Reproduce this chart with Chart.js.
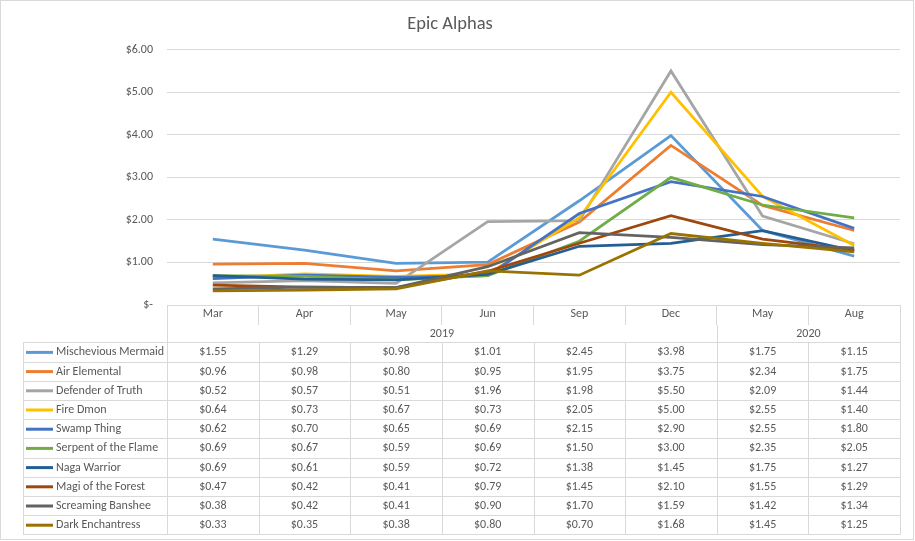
<!DOCTYPE html>
<html><head><meta charset="utf-8">
<script src="https://cdn.jsdelivr.net/npm/chart.js@4/dist/chart.umd.min.js"></script>
<style>html,body{margin:0;padding:0;background:#fff;overflow:hidden}canvas{display:block}</style>
</head><body>
<canvas id="c" width="915" height="541"></canvas>
<script>
const chartTitle = 'Epic Alphas';
const months = ['Mar','Apr','May','Jun','Sep','Dec','May','Aug'];
const years = ['2019','2020'];
const yearSpans = [[0,5],[6,7]];
const yTickValues = [0,1,2,3,4,5,6];
const seriesNames = ['Mischevious Mermaid','Air Elemental','Defender of Truth','Fire Dmon','Swamp Thing','Serpent of the Flame','Naga Warrior','Magi of the Forest','Screaming Banshee','Dark Enchantress'];
const mischeviousMermaid = [1.55,1.29,0.98,1.01,2.45,3.98,1.75,1.15];
const airElemental       = [0.96,0.98,0.80,0.95,1.95,3.75,2.34,1.75];
const defenderOfTruth    = [0.52,0.57,0.51,1.96,1.98,5.50,2.09,1.44];
const fireDmon           = [0.64,0.73,0.67,0.73,2.05,5.00,2.55,1.40];
const swampThing         = [0.62,0.70,0.65,0.69,2.15,2.90,2.55,1.80];
const serpentOfTheFlame  = [0.69,0.67,0.59,0.69,1.50,3.00,2.35,2.05];
const nagaWarrior        = [0.69,0.61,0.59,0.72,1.38,1.45,1.75,1.27];
const magiOfTheForest    = [0.47,0.42,0.41,0.79,1.45,2.10,1.55,1.29];
const screamingBanshee   = [0.38,0.42,0.41,0.90,1.70,1.59,1.42,1.34];
const darkEnchantress    = [0.33,0.35,0.38,0.80,0.70,1.68,1.45,1.25];
const seriesValues = [mischeviousMermaid,airElemental,defenderOfTruth,fireDmon,swampThing,serpentOfTheFlame,nagaWarrior,magiOfTheForest,screamingBanshee,darkEnchantress];
const seriesColors = ['#5B9BD5','#ED7D31','#A5A5A5','#FFC000','#4472C4','#70AD47','#255E91','#9E480E','#636363','#997300'];

const FONT = 'Calibri, Carlito, Lato, "Open Sans", sans-serif';
const TXT = '#595959';
const GRID = '#d9d9d9';
const fmt = v => v === 0 ? '$-' : '$' + v.toFixed(2);

const tablePlugin = {
  id: 'dataTable',
  afterDraw(chart) {
    const ctx = chart.ctx;
    const xs = chart.scales.x;
    const area = chart.chartArea;
    const n = months.length;
    const colW = (area.right - area.left) / n;
    const edges = [];
    for (let i = 0; i < n; i++) edges.push(xs.getPixelForValue(i) - colW / 2);
    edges.push(xs.getPixelForValue(n - 1) + colW / 2);
    const yearTop = area.bottom + 20;
    const rowTop = area.bottom + 37.3;
    const rowH = 19.2;
    const tableLeft = 23;
    ctx.save();
    ctx.strokeStyle = GRID;
    ctx.lineWidth = 1;
    const yearEdges = [edges[0]];
    yearSpans.forEach(s => yearEdges.push(edges[s[1] + 1]));
    yearEdges.forEach(x => {
      ctx.beginPath(); ctx.moveTo(Math.round(x) + 0.5, yearTop); ctx.lineTo(Math.round(x) + 0.5, rowTop); ctx.stroke();
    });
    const nr = seriesNames.length;
    for (let r = 0; r <= nr; r++) {
      const y = Math.round(rowTop + r * rowH) + 0.5;
      ctx.beginPath(); ctx.moveTo(tableLeft, y); ctx.lineTo(edges[n] + 0.5, y); ctx.stroke();
    }
    const vlines = [tableLeft].concat(edges);
    vlines.forEach(x => {
      const xx = Math.round(x) + 0.5;
      ctx.beginPath(); ctx.moveTo(xx, Math.round(rowTop) + 0.5); ctx.lineTo(xx, Math.round(rowTop + nr * rowH) + 0.5); ctx.stroke();
    });
    ctx.fillStyle = TXT;
    ctx.font = '12px ' + FONT;
    ctx.textAlign = 'center';
    ctx.textBaseline = 'middle';
    yearSpans.forEach((s, k) => {
      const cx = (edges[s[0]] + edges[s[1] + 1]) / 2;
      ctx.fillText(years[k], cx, yearTop + 8.5);
    });
    for (let r = 0; r < nr; r++) {
      const cy = rowTop + r * rowH + rowH / 2 + 0.5;
      ctx.strokeStyle = seriesColors[r];
      ctx.lineWidth = 3;
      ctx.beginPath(); ctx.moveTo(26, cy); ctx.lineTo(53, cy); ctx.stroke();
      ctx.fillStyle = TXT;
      ctx.textAlign = 'left';
      ctx.fillText(seriesNames[r], 56, cy);
      ctx.textAlign = 'center';
      for (let i = 0; i < n; i++) {
        ctx.fillText(fmt(seriesValues[r][i]), xs.getPixelForValue(i), cy);
      }
    }
    ctx.strokeStyle = GRID;
    ctx.lineWidth = 1;
    ctx.strokeRect(0.5, 0.5, 913, 539);
    ctx.restore();
  }
};

new Chart(document.getElementById('c'), {
  type: 'line',
  data: {
    labels: months,
    datasets: seriesNames.map((name, i) => ({
      label: name,
      data: seriesValues[i],
      borderColor: seriesColors[i],
      backgroundColor: seriesColors[i],
      borderWidth: 2.75,
      pointRadius: 0,
      tension: 0,
      fill: false,
      order: -i
    }))
  },
  options: {
    responsive: false,
    animation: false,
    devicePixelRatio: 1,
    layout: { padding: { left: 0, right: 15, top: 0, bottom: 216 } },
    plugins: {
      legend: { display: false },
      tooltip: { enabled: false },
      title: {
        display: true, text: chartTitle, color: TXT,
        font: { family: FONT, size: 18.5, weight: 'normal' },
        padding: { top: 13, bottom: 14.5 }
      }
    },
    scales: {
      x: {
        offset: true,
        grid: { offset: true, drawOnChartArea: false, drawTicks: true, tickLength: 20, color: GRID },
        border: { display: true, color: GRID },
        ticks: { color: TXT, font: { family: FONT, size: 12 }, padding: -18, maxRotation: 0, autoSkip: false },
        afterFit(s) { s.height = 20; }
      },
      y: {
        min: 0, max: 6,
        afterBuildTicks(s) { s.ticks = yTickValues.map(v => ({ value: v })); },
        grid: { color: GRID, drawTicks: false },
        border: { display: false },
        ticks: { color: TXT, font: { family: FONT, size: 12 }, padding: 14, callback: v => fmt(v) },
        afterFit(s) { s.width = 167; }
      }
    }
  },
  plugins: [tablePlugin]
});
</script>
</body></html>
